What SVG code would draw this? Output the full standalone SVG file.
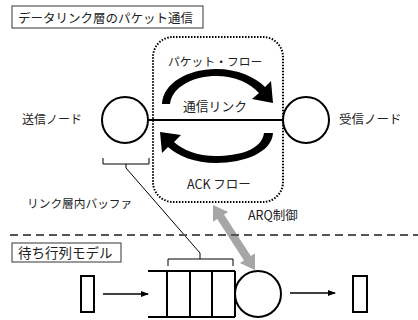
<svg xmlns="http://www.w3.org/2000/svg" width="418" height="320" viewBox="0 0 418 320">
<defs>
<style>
text{font-family:"Noto Sans CJK JP","Noto Sans",sans-serif;fill:#222;dominant-baseline:central}
.s{fill:none;stroke:#000;stroke-width:2}
.box{fill:#fff;stroke:#555;stroke-width:1.2}
.thin{fill:none;stroke:#000;stroke-width:1}
</style>
<marker id="ah" markerWidth="8" markerHeight="8" refX="7" refY="4" orient="auto" markerUnits="userSpaceOnUse">
<path d="M0,1 L8,4 L0,7 Z" fill="#000"/>
</marker>
</defs>
<rect width="418" height="320" fill="#fff"/>

<g id="title1">
<rect class="box" x="12" y="6" width="191" height="22"/>
<text x="18" y="17" font-size="12.5">データリンク層のパケット通信</text>
</g>

<g id="link-area">
<rect x="153" y="37" width="130" height="165" rx="20" fill="none" stroke="#000" stroke-width="2" stroke-dasharray="1.5,1.5"/>
</g>

<g id="connectors">
<line class="s" x1="148" y1="120" x2="283" y2="120"/>
<path d="M162,104 C163,83 188,69 216,69 C238,69 255,77 265,87 L271,81 L273,103 L252,99 L259,93 C250,83 235,76 216,76 C195,76 172,86 170,104 Z" fill="#000"/>
<path d="M273,133 C272,152 245,163 216,163 C195,163 178,156 168,147 L162,153 L160,132 L181,135 L174,142 C183,150 197,156 216,156 C238,156 262,150 264,133 Z" fill="#000"/>
<path class="thin" d="M103,158 L103,164 L149,164 L149,158 M126,164 L126,168 L200,253 L200,259 M168,266 L168,259 L233,259 L233,266"/>
<polygon points="213,205 213,221.7 217.2,219 244,260.4 239.8,263.1 255,270 255,253.3 250.8,256 224,214.6 228.2,211.9" fill="#a6a6a6"/>
<line x1="103" y1="294" x2="148" y2="294" stroke="#000" stroke-width="1.3" marker-end="url(#ah)"/>
<line x1="290" y1="293" x2="335" y2="293" stroke="#000" stroke-width="1.3" marker-end="url(#ah)"/>
</g>

<g id="sender">
<circle class="s" cx="125" cy="120" r="23" fill="#fff"/>
<text x="22" y="118" font-size="12">送信ノード</text>
</g>

<g id="receiver">
<circle class="s" cx="306" cy="120" r="23" fill="#fff"/>
<text x="339" y="118" font-size="12.5">受信ノード</text>
</g>

<g id="labels">
<text x="168" y="60" font-size="11.8">パケット・フロー</text>
<text x="183" y="105" font-size="12.8">通信リンク</text>
<text x="187" y="183" font-size="12.5">ACK フロー</text>
<text x="27" y="202" font-size="11.7">リンク層内バッファ</text>
<text x="248" y="214" font-size="12.5">ARQ制御</text>
</g>

<line x1="10" y1="235" x2="418" y2="235" stroke="#555" stroke-width="2" stroke-dasharray="8,5"/>

<g id="title2">
<rect class="box" x="12" y="243" width="109" height="19"/>
<text x="18" y="252" font-size="13.5">待ち行列モデル</text>
</g>

<g id="source">
<rect class="s" x="81" y="276" width="13" height="36"/>
</g>

<g id="queue">
<path class="s" d="M148,271 L235,271 M148,317 L235,317 M167,271 L167,317 M190,271 L190,317 M212,271 L212,317 M235,271 L235,317"/>
</g>

<g id="server">
<circle class="s" cx="258" cy="294" r="23" fill="#fff"/>
</g>

<g id="sink">
<rect class="s" x="353" y="276" width="14" height="36"/>
</g>
</svg>
